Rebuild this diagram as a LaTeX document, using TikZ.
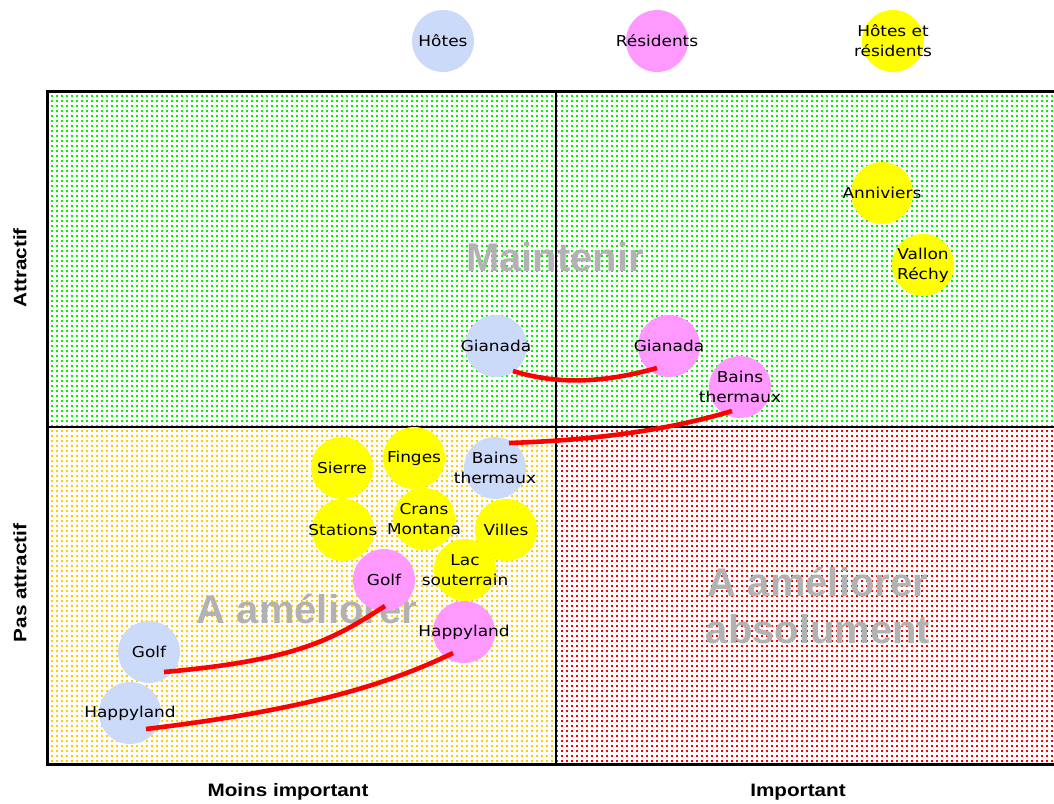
\documentclass[tikz,border=0pt]{standalone}
\usepackage{fontspec}
\setmainfont{DejaVu Sans}
\newfontfamily\lblfont[FakeStretch=1.13]{DejaVu Sans}
\newfontfamily\arialf{Liberation Sans}
\newfontfamily\arialfw[FakeStretch=1.15]{Liberation Sans}
\usetikzlibrary{patterns.meta,calc}
\tikzdeclarepattern{name=dotgrid, type=uncolored,
  bottom left={(-.1pt,-.1pt)}, top right={(5.1pt,5.1pt)},
  tile size={(5pt,5pt)},
  code={\fill (1pt,1pt) rectangle (3.4pt,3.4pt);}}
\definecolor{hblue}{HTML}{CCDAFA}
\definecolor{rpink}{HTML}{FF99FF}
\definecolor{ylw}{HTML}{FFFF00}
\definecolor{pgreen}{HTML}{00F000}
\definecolor{pgold}{HTML}{FFCC00}
\definecolor{pred}{HTML}{FF0000}
\definecolor{biggray}{HTML}{B2B2B2}
\tikzset{
  bubble/.style={circle, minimum size=62pt, inner sep=0pt},
  lbltext/.style={font=\lblfont\fontsize{15}{20}\selectfont, text=black, align=center, inner sep=0pt},
  hotel/.style={bubble, fill=hblue},
  resid/.style={bubble, fill=rpink},
  both/.style={bubble, fill=ylw},
  conn/.style={draw=red, line width=4.6pt},
  biglbl/.style={font=\arialf\bfseries\fontsize{40}{47}\selectfont, text=biggray, align=center},
  axislbl/.style={font=\arialfw\bfseries\fontsize{18}{20}\selectfont, text=black},
  quad/.style={pattern=dotgrid, pattern color=#1},
}
\begin{document}
\begin{tikzpicture}[x=1pt,y=-1pt]
\useasboundingbox (0,0) rectangle (1054,803);
% quadrants
\fill[quad=pgreen] (47,91) rectangle (1054,427);
\fill[quad=pgold] (47,427) rectangle (556,764);
\fill[quad=pred] (556,427) rectangle (1054,764);
% frame
\draw[line width=3pt] (1054,91) -- (47,91) -- (47,764) -- (1054,764);
\draw[line width=2pt] (556,91) -- (556,764);
\draw[line width=2pt] (47,427) -- (1054,427);
% big labels
\node[biglbl] (maint) at (555,257) {Maintenir};
\node[biglbl] (amel) at (307,609) {A améliorer};
\node[biglbl] (amelabs) at (818,606) {A améliorer\\absolument};
% axis labels
\node[axislbl] (xlo) at (288,792) {Moins important};
\node[axislbl] (xhi) at (798,792) {Important};
\node[axislbl, rotate=90] (yhi) at (20,268) {Attractif};
\node[axislbl, rotate=90] (ylo) at (20,583) {Pas attractif};
% legend
\node[hotel, label={[lbltext]center:Hôtes}] (legH) at (443,41) {};
\node[resid, label={[lbltext]center:Résidents}] (legR) at (657,41) {};
\node[both, label={[lbltext]center:{Hôtes et\\résidents}}] (legB) at (893,41) {};
% bubbles
\node[both, label={[lbltext]center:Anniviers}] (anniv) at (882,193) {};
\node[both, label={[lbltext]center:{Vallon\\Réchy}}] (vallon) at (923,265) {};
\node[hotel, label={[lbltext]center:Gianada}] (gianH) at (496,346) {};
\node[resid, label={[lbltext]center:Gianada}] (gianR) at (669,346) {};
\node[resid, label={[lbltext]center:{Bains\\thermaux}}] (bainsR) at (740,387) {};
\node[both, label={[lbltext]center:Sierre}] (sierre) at (342,468) {};
\node[both, label={[lbltext]center:Finges}] (finges) at (414,458) {};
\node[hotel, label={[lbltext]center:{Bains\\thermaux}}] (bainsH) at (495,468) {};
\node[both, label={[lbltext]center:Stations}] (stations) at (343,530) {};
\node[both, label={[lbltext]center:{Crans\\Montana}}] (crans) at (424,519) {};
\node[both, label={[lbltext]center:Villes}] (villes) at (506,530) {};
\node[both, label={[lbltext]center:{Lac\\souterrain}}] (lac) at (465,570) {};
\node[resid, label={[lbltext]center:Golf}] (golfR) at (384,580) {};
\node[resid, label={[lbltext]center:Happyland}] (happyR) at (464,632) {};
\node[hotel, label={[lbltext]center:Golf}] (golfH) at (149,652) {};
\node[hotel, label={[lbltext]center:Happyland}] (happyH) at (130,713) {};
% connectors
\draw[conn] ($(gianH)+(17,25)$) .. controls (555,384) and (600,384) .. ($(gianR)+(-12,22)$);
\draw[conn] ($(bainsH)+(14,-25)$) .. controls (600,440) and (672,429) .. ($(bainsR)+(-8,24)$);
\draw[conn] ($(golfH)+(15,20)$) .. controls (300,660) and (335,638) .. ($(golfR)+(1,26)$);
\draw[conn] ($(happyH)+(16,16)$) .. controls (296,711) and (383,687) .. ($(happyR)+(-11,21)$);
\end{tikzpicture}
\end{document}
